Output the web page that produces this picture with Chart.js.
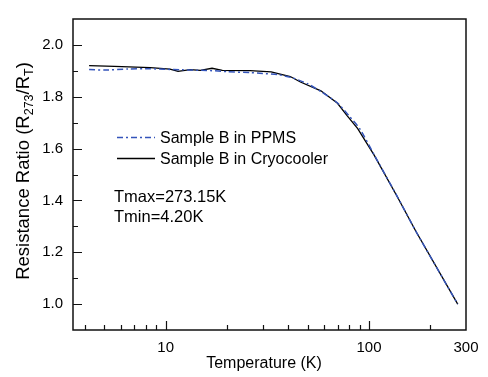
<!doctype html>
<html lang="en">
<head>
  <meta charset="utf-8" />
  <title>Resistance Ratio vs Temperature</title>
  <script src="https://cdn.jsdelivr.net/npm/chart.js"></script>
  <style>
    html, body { margin: 0; padding: 0; background: #fff; }
    #wrap { width: 488px; height: 377px; }
  </style>
</head>
<body>
  <div id="wrap"><canvas id="rrChart" width="488" height="377"></canvas></div>

<script>
  // values
  const ppmsTemp  = [4.2, 5.0, 6.5, 8.4, 10, 12, 15, 17.5, 20, 26, 30, 36, 42, 50, 58, 70, 80, 90, 106, 138, 170, 273.15];
  const ppmsRatio = [1.905, 1.903, 1.907, 1.908, 1.906, 1.904, 1.902, 1.900, 1.897, 1.893, 1.890, 1.885, 1.873, 1.850, 1.820, 1.776, 1.725, 1.677, 1.576, 1.414, 1.281, 1.000];

  const cryoTemp  = [4.2, 5.6, 8.4, 10.5, 11.5, 13.2, 14.8, 16.9, 19.0, 26, 33, 41, 46, 58, 70, 78, 88, 106, 138, 170, 273.15];
  const cryoRatio = [1.920, 1.917, 1.912, 1.907, 1.898, 1.905, 1.902, 1.910, 1.902, 1.901, 1.896, 1.878, 1.857, 1.823, 1.775, 1.727, 1.677, 1.575, 1.413, 1.281, 1.000];

  const xTicks = [4, 5, 6, 7, 8, 9, 10, 20, 30, 40, 50, 60, 70, 80, 90, 100, 200, 300];
  const xLabels = [10, 100, 300];
  const yTicks = [1.0, 1.1, 1.2, 1.3, 1.4, 1.5, 1.6, 1.7, 1.8, 1.9, 2.0];
  const yLabels = [1.0, 1.2, 1.4, 1.6, 1.8, 2.0];

  const blue = 'rgb(52, 84, 186)';
  const font = 'Liberation Sans, Arial, sans-serif';

  const toPoints = (xs, ys) => xs.map((x, i) => ({ x: x, y: ys[i] }));
  const isLabel = (list, v) => list.some(l => Math.abs(l - v) < 1e-6);

  // frame, inward ticks, titles, legend and notes
  const decor = {
    id: 'decor',
    afterDraw(chart) {
      const ctx = chart.ctx;
      const a = chart.chartArea;
      const xs = chart.scales.x, ys = chart.scales.y;
      ctx.save();
      ctx.strokeStyle = '#111';
      ctx.lineWidth = 1.5;
      ctx.strokeRect(a.left, a.top, a.right - a.left, a.bottom - a.top);

      ctx.lineWidth = 1.2;
      ctx.beginPath();
      xTicks.forEach(v => {
        const px = Math.round(xs.getPixelForValue(v)) + 0.5;
        const len = isLabel(xLabels, v) ? 9 : 5;
        if (v >= 300) return;
        ctx.moveTo(px, a.bottom);
        ctx.lineTo(px, a.bottom - len);
      });
      yTicks.forEach(v => {
        const py = Math.round(ys.getPixelForValue(v)) + 0.5;
        const len = isLabel(yLabels, v) ? 9 : 5;
        ctx.moveTo(a.left, py);
        ctx.lineTo(a.left + len, py);
      });
      ctx.stroke();

      // x title
      ctx.fillStyle = '#000';
      ctx.font = '16px ' + font;
      ctx.textAlign = 'center';
      ctx.textBaseline = 'alphabetic';
      ctx.fillText('Temperature (K)', 264, 368);

      // y title with subscripts
      const big = '18.5px ' + font, small = '12.5px ' + font;
      const parts = [
        ['Resistance Ratio (R', big, 0],
        ['273', small, 4],
        ['/R', big, 0],
        ['T', small, 4],
        [')', big, 0]
      ];
      let total = 0;
      parts.forEach(p => { ctx.font = p[1]; total += ctx.measureText(p[0]).width; });
      ctx.translate(28.5, 171);
      ctx.rotate(-Math.PI / 2);
      ctx.textAlign = 'left';
      let cx = -total / 2;
      parts.forEach(p => {
        ctx.font = p[1];
        ctx.fillText(p[0], cx, p[2]);
        cx += ctx.measureText(p[0]).width;
      });
      ctx.setTransform(1, 0, 0, 1, 0, 0);

      // legend
      ctx.lineWidth = 1.5;
      ctx.strokeStyle = blue;
      ctx.setLineDash([6, 3, 2, 3]);
      ctx.beginPath();
      ctx.moveTo(117, 137.5);
      ctx.lineTo(155, 137.5);
      ctx.stroke();
      ctx.setLineDash([]);
      ctx.strokeStyle = '#000';
      ctx.beginPath();
      ctx.moveTo(117, 158.5);
      ctx.lineTo(155, 158.5);
      ctx.stroke();

      ctx.font = '16px ' + font;
      ctx.textAlign = 'left';
      ctx.fillText('Sample B in PPMS', 160, 142.5);
      ctx.fillText('Sample B in Cryocooler', 160, 163.5);
      ctx.font = '16.5px ' + font;
      ctx.fillText('Tmax=273.15K', 114, 201.5);
      ctx.fillText('Tmin=4.20K', 114, 222);
      ctx.restore();
    }
  };

  const ctx = document.getElementById('rrChart').getContext('2d');
  const rrChart = new Chart(ctx, {
    type: 'line',
    data: {
      datasets: [{
        label: 'Sample B in PPMS',
        data: toPoints(ppmsTemp, ppmsRatio),
        borderColor: blue,
        borderWidth: 1.5,
        borderDash: [6, 3, 2, 3],
        pointRadius: 0,
        tension: 0.2,
        fill: false
      }, {
        label: 'Sample B in Cryocooler',
        data: toPoints(cryoTemp, cryoRatio),
        borderColor: '#000',
        borderWidth: 1.3,
        pointRadius: 0,
        tension: 0,
        fill: false
      }]
    },
    options: {
      responsive: false,
      animation: false,
      layout: { padding: { left: 0, right: 22, top: 3, bottom: 0 } },
      plugins: { legend: { display: false }, tooltip: { enabled: false } },
      scales: {
        x: {
          type: 'logarithmic',
          min: 3.5,
          max: 300,
          grid: { display: false, drawTicks: false },
          border: { display: false },
          afterBuildTicks: s => { s.ticks = xTicks.map(v => ({ value: v })); },
          afterFit: s => { s.height = 47; },
          ticks: {
            autoSkip: false,
            maxRotation: 0,
            padding: 9,
            color: '#000',
            font: { family: font, size: 15 },
            callback: v => isLabel(xLabels, v) ? String(v) : ''
          }
        },
        y: {
          type: 'linear',
          min: 0.9,
          max: 2.1,
          grid: { display: false, drawTicks: false },
          border: { display: false },
          afterBuildTicks: s => { s.ticks = yTicks.map(v => ({ value: v })); },
          afterFit: s => { s.width = 73; },
          ticks: {
            autoSkip: false,
            padding: 10,
            color: '#000',
            font: { family: font, size: 15 },
            callback: v => isLabel(yLabels, v) ? v.toFixed(1) : ''
          }
        }
      }
    },
    plugins: [decor]
  });
</script>
</body>
</html>
